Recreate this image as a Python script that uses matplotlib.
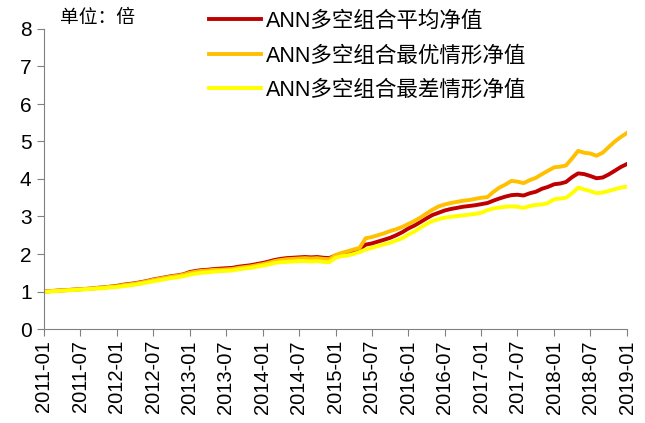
import pandas as pd
import matplotlib.pyplot as plt
import matplotlib.dates as mdates

plt.rcParams['font.family'] = ['Liberation Sans', 'Noto Sans CJK SC', 'DejaVu Sans']

# monthly net values, 2011-01 .. 2019-01
months = pd.date_range("2011-01-01", periods=97, freq="MS")

avg_nav = [
    1.00, 1.01, 1.02, 1.03, 1.04, 1.05, 1.06, 1.07, 1.08, 1.10, 1.11, 1.13,
    1.15, 1.18, 1.20, 1.22, 1.25, 1.28, 1.32, 1.35, 1.38, 1.41, 1.43, 1.46,
    1.52, 1.55, 1.57, 1.58, 1.60, 1.61, 1.62, 1.63, 1.66, 1.68, 1.70, 1.73,
    1.76, 1.80, 1.84, 1.87, 1.89, 1.90, 1.91, 1.92, 1.91, 1.92, 1.90, 1.89,
    1.96, 2.00, 2.04, 2.08, 2.12, 2.25, 2.28, 2.33, 2.38, 2.43, 2.50, 2.58,
    2.68, 2.76, 2.85, 2.95, 3.04, 3.10, 3.16, 3.20, 3.23, 3.26, 3.28, 3.30,
    3.33, 3.36, 3.42, 3.48, 3.53, 3.57, 3.58, 3.56, 3.62, 3.66, 3.74, 3.79,
    3.86, 3.88, 3.92, 4.05, 4.15, 4.13, 4.08, 4.02, 4.04, 4.12, 4.22, 4.32,
    4.40,
]

best_nav = [
    1.00, 1.01, 1.02, 1.03, 1.04, 1.05, 1.06, 1.07, 1.08, 1.10, 1.11, 1.13,
    1.14, 1.17, 1.19, 1.21, 1.24, 1.27, 1.31, 1.34, 1.37, 1.40, 1.42, 1.45,
    1.50, 1.53, 1.55, 1.56, 1.58, 1.58, 1.59, 1.60, 1.63, 1.65, 1.67, 1.70,
    1.73, 1.77, 1.81, 1.84, 1.86, 1.87, 1.88, 1.89, 1.88, 1.89, 1.87, 1.86,
    1.97, 2.03, 2.07, 2.12, 2.16, 2.42, 2.45, 2.50, 2.55, 2.61, 2.66, 2.72,
    2.80, 2.88, 2.97, 3.08, 3.18, 3.27, 3.32, 3.36, 3.39, 3.42, 3.44, 3.47,
    3.50, 3.52, 3.65, 3.77, 3.85, 3.95, 3.93, 3.89, 3.97, 4.03, 4.13, 4.22,
    4.31, 4.33, 4.36, 4.55, 4.75, 4.70, 4.68, 4.62, 4.70, 4.85, 5.00, 5.12,
    5.23,
]

worst_nav = [
    0.99, 1.00, 1.01, 1.02, 1.03, 1.04, 1.05, 1.06, 1.07, 1.08, 1.09, 1.11,
    1.12, 1.14, 1.16, 1.18, 1.21, 1.24, 1.27, 1.30, 1.33, 1.36, 1.38, 1.41,
    1.45, 1.48, 1.50, 1.51, 1.53, 1.54, 1.55, 1.56, 1.59, 1.61, 1.63, 1.66,
    1.69, 1.72, 1.76, 1.78, 1.79, 1.80, 1.81, 1.81, 1.80, 1.81, 1.79, 1.78,
    1.90, 1.94, 1.96, 2.00, 2.05, 2.12, 2.16, 2.21, 2.26, 2.30, 2.36, 2.42,
    2.52, 2.60, 2.70, 2.80, 2.88, 2.93, 2.97, 2.99, 3.01, 3.03, 3.05, 3.07,
    3.10, 3.17, 3.21, 3.24, 3.26, 3.27, 3.26, 3.23, 3.28, 3.31, 3.32, 3.36,
    3.46, 3.48, 3.50, 3.62, 3.77, 3.72, 3.68, 3.62, 3.64, 3.68, 3.73, 3.77,
    3.80,
]

labels = ["ANN多空组合平均净值", "ANN多空组合最优情形净值", "ANN多空组合最差情形净值"]
colors = ["#C00000", "#FFC000", "#FFFF00"]

fig = plt.figure(figsize=(6.45, 4.23), dpi=100)
ax = fig.add_axes([44 / 645, 1 - 329 / 423, (627 - 44) / 645, 300 / 423])

for vals, lab, col in zip([avg_nav, best_nav, worst_nav], labels, colors):
    ax.plot(months, vals, color=col, lw=2.8, label=lab)

ax.set_ylim(0, 8)
ax.set_yticks(range(0, 9))
ax.set_xlim(months[0], months[-1])
ax.xaxis.set_major_locator(mdates.MonthLocator(bymonth=[1, 7]))
ax.xaxis.set_major_formatter(mdates.DateFormatter("%Y-%m"))
ax.tick_params(axis="x", rotation=90, labelsize=14.5, length=5, color="#808080", pad=3)
ax.tick_params(axis="y", labelsize=15, length=5, color="#808080", pad=4)

for s in ["top", "right"]:
    ax.spines[s].set_visible(False)
for s in ["left", "bottom"]:
    ax.spines[s].set_color("#808080")

fig.legend(loc="upper left", bbox_to_anchor=(209 / 645, 1 - 11 / 423),
           frameon=False, fontsize=15.5, handlelength=2.4, handletextpad=0.25,
           labelspacing=0.62, borderpad=0, borderaxespad=0)

fig.text(60 / 645, 1 - 17 / 423, "单位：倍", fontsize=13.5, va="center",
         family=["Noto Sans CJK SC", "DejaVu Sans"])

plt.savefig("out.png", dpi=100)
